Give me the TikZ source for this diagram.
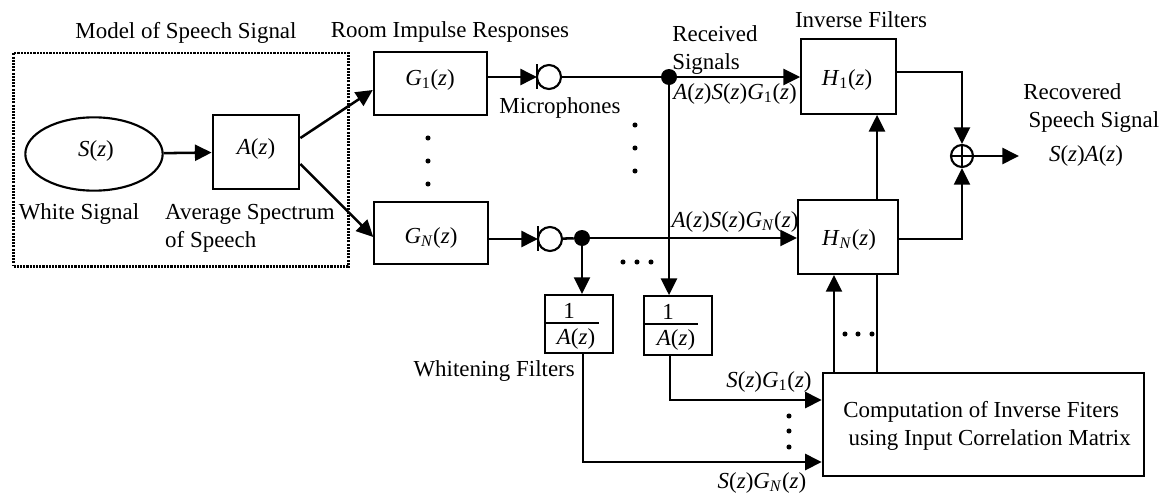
\documentclass[tikz,border=0pt]{standalone}
\usepackage{amsmath}
\usepackage{fontspec}
\setmainfont{Liberation Serif}
\usepackage{xcolor}
\usetikzlibrary{positioning, arrows.meta, shapes.geometric}
\tikzset{
  blockbox/.style={draw, line width=1.6pt, inner sep=0pt},
  lbl/.style={inner sep=0pt, align=center, font=\fontsize{17.2}{21}\selectfont},
  sig/.style={line width=1.9pt, -{Triangle[length=12.5pt,width=12pt]}},
  plainline/.style={line width=1.9pt},
  junction/.style={circle, fill=black, inner sep=0pt, minimum size=12pt},
  dotmark/.style={circle, fill=black, inner sep=0pt, minimum size=3.8pt},
  micro/.style={circle, draw, line width=1.6pt, minimum size=18pt, inner sep=0pt},
}
\newcommand{\fn}[1]{\textit{#1}(\textit{z})}
\newcommand{\fnsub}[2]{\textit{#1}\textsubscript{#2}(\textit{z})}
\begin{document}
\begin{tikzpicture}[x=0.75pt,y=-0.75pt]
  \useasboundingbox (0,0) rectangle (1174,496);
  % model of speech
  \node[draw, dash pattern=on 1.6pt off 0.8pt, line width=2pt, minimum width=251pt, minimum height=160pt, inner sep=0pt]
                          (model)  at (181,159.5) {};
  \node[draw, ellipse, line width=1.6pt, minimum width=103pt, minimum height=55pt, inner sep=0pt]
                          (src)    at (94,154) {};
  \node[blockbox, minimum width=65pt, minimum height=56pt] (avg) at (256,152) {};
  \node[lbl] (srctxt)   at (96,151)  {\fn{S}};
  \node[lbl] (avgtxt)   at (256,149) {\fn{A}};
  \node[lbl] (modeltxt) at (186,33)  {Model of Speech Signal};
  \node[lbl] (whitetxt) at (79,214)  {White Signal};
  \node[lbl, align=left] (spectxt) at (250,228) {Average Spectrum\\of Speech};

  % room responses
  \node[blockbox, minimum width=85pt, minimum height=47pt] (g1) at (430.5,83.5) {};
  \node[blockbox, minimum width=85pt, minimum height=47pt] (gn) at (431,233) {};
  \node[lbl] (g1txt)   at (430,80)  {\fnsub{G}{1}};
  \node[lbl] (gntxt)   at (431,238) {\fnsub{G}{\textit{N}}};
  \node[lbl] (roomtxt) at (450,32)  {Room Impulse Responses};

  % microphones
  \node[micro] (mic1) at (549,77) {};
  \node[micro] (micn) at (550,239) {};
  \coordinate (bar1top) at (537,64);
  \coordinate (bar1bot) at (537,89);
  \coordinate (barntop) at (538,226);
  \coordinate (barnbot) at (538,251);
  \draw[plainline] (bar1top) -- (bar1bot);
  \draw[plainline] (barntop) -- (barnbot);
  \node[lbl] (mictxt) at (560,108) {Microphones};

  \node[junction] (j1) at (669,77) {};
  \node[junction] (jn) at (582,238) {};

  % inverse filters
  \node[blockbox, minimum width=71pt, minimum height=56pt] (h1) at (848.5,76.5) {};
  \node[blockbox, minimum width=75pt, minimum height=55.5pt] (hn) at (848,237) {};
  \node[lbl] (h1txt)  at (847,80)  {\fnsub{H}{1}};
  \node[lbl] (hntxt)  at (849,240) {\fnsub{H}{\textit{N}}};
  \node[lbl] (invtxt) at (861,20)  {Inverse Filters};

  \node[circle, draw, line width=1.6pt, minimum size=16.5pt, inner sep=0pt] (sum) at (962,156) {};
  \draw[line width=1pt] (sum.west) -- (sum.east) (sum.north) -- (sum.south);
  \coordinate (outp) at (1019,156);

  % whitening
  \node[blockbox, minimum width=51pt, minimum height=43.5pt] (w1) at (579,324) {};
  \node[blockbox, minimum width=51pt, minimum height=44pt] (w2) at (678,325.5) {};
  \coordinate (w1bar) at (599,323);
  \coordinate (w2bar) at (698,324);
  \draw[plainline] (w1.west |- w1bar) -- (w1bar);
  \draw[plainline] (w2.west |- w2bar) -- (w2bar);
  \node[lbl] (w1num) at (569,311) {1};
  \node[lbl] (w2num) at (668,312) {1};
  \node[lbl] (w1den) at (576,339) {\fn{A}};
  \node[lbl] (w2den) at (676,340) {\fn{A}};
  \node[lbl, anchor=east] (whitentxt) at (575,371) {Whitening Filters};

  \node[blockbox, minimum width=241pt, minimum height=77pt] (comp) at (983.5,424.5) {};
  \node[lbl, align=left, anchor=west] (comptxt) at (843,425.5)
    {Computation of Inverse Fiters\\\hspace*{4pt}using Input Correlation Matrix};
  \coordinate (c1) at (670,400);
  \coordinate (c2) at (583,462);

  % connections
  \draw[sig] (src) -- (avg);
  \draw[sig] (avg.east |- 0,138) -- (g1.west |- 0,90);
  \draw[sig] (avg.east |- 0,164) -- (gn.west |- 0,237);
  \draw[sig] (g1.east |- mic1) -- (bar1top |- mic1);
  \draw[sig] (gn.east |- micn) -- (barntop |- micn);
  \draw[plainline] (mic1) -- (j1);
  \draw[plainline] (micn) -- (jn);
  \draw[sig] (j1) -- (h1.west |- j1);
  \draw[sig] (jn) -- (hn.west |- jn);
  \draw[sig] (j1) -- (w2.north -| j1);
  \draw[sig] (jn) -- (w1.north -| jn);
  \draw[sig] (h1.east |- 0,72) -| (sum.north);
  \draw[sig] (hn.east |- 0,239) -| (sum.south);
  \draw[sig] (sum) -- (outp);
  \draw[sig] (hn.north -| 877,0) -- (h1.south -| 877,0);
  \draw[sig] (comp.north -| 834,0) -- (hn.south -| 834,0);
  \draw[plainline] (comp.north -| 877,0) -- (hn.south -| 877,0);
  \draw[sig] (w2.south -| c1) |- (comp.west |- c1);
  \draw[sig] (w1.south -| c2) |- (comp.west |- c2);

  % labels on signals
  \node[lbl, align=left, anchor=west] (rectxt) at (672,50) {Received\\Signals};
  \node[lbl] (a1txt) at (735,94)  {\fn{A}\fn{S}\fnsub{G}{1}};
  \node[lbl] (antxt) at (735,222) {\fn{A}\fn{S}\fnsub{G}{\textit{N}}};
  \node[lbl, align=left, anchor=west] (outtxt) at (1023,108) {Recovered\\\hspace*{4pt}Speech Signal};
  \node[lbl] (saztxt) at (1086,156) {\fn{S}\fn{A}};
  \node[lbl] (s1txt)  at (769,382)  {\fn{S}\fnsub{G}{1}};
  \node[lbl] (sntxt)  at (762,483)  {\fn{S}\fnsub{G}{\textit{N}}};

  % dots
  \foreach \y in {138,161,184} \node[dotmark] (da\y) at (428,\y) {};
  \foreach \y in {125,148,171} \node[dotmark] (db\y) at (635,\y) {};
  \foreach \x in {623,637,651} \node[dotmark] (dc\x) at (\x,262) {};
  \foreach \x in {845,858,872} \node[dotmark] (dd\x) at (\x,334) {};
  \foreach \y in {416,431,447} \node[dotmark] (de\y) at (789,\y) {};
\end{tikzpicture}
\end{document}
